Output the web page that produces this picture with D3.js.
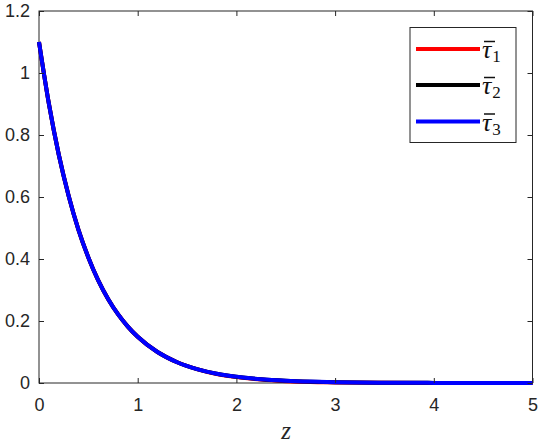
<!DOCTYPE html>
<html>
<head>
<meta charset="utf-8">
<script src="https://cdn.jsdelivr.net/npm/d3@7"></script>
<style>
  body { margin: 0; background: #fff; }
  svg { display: block; }
</style>
</head>
<body>
<svg id="chart" width="540" height="444"></svg>
<script>
// values
const zValues = [0, 0.1, 0.2, 0.3, 0.4, 0.5, 0.6, 0.7, 0.8, 0.9, 1.0, 1.2, 1.4, 1.6, 1.8, 2.0, 2.25, 2.5, 2.75, 3.0, 3.5, 4.0, 4.5, 5.0];
const tau1 = [1.100, 0.901, 0.737, 0.604, 0.494, 0.405, 0.331, 0.271, 0.222, 0.182, 0.149, 0.100, 0.067, 0.045, 0.029, 0.019, 0.011, 0.006, 0.003, 0.002, 0.0008, 0.0003, 0.0001, 0.00005];
const tau2 = [1.100, 0.901, 0.737, 0.604, 0.494, 0.405, 0.331, 0.271, 0.222, 0.182, 0.149, 0.100, 0.067, 0.045, 0.030, 0.020, 0.012, 0.0072, 0.0044, 0.0026, 0.0010, 0.0004, 0.0001, 0.00005];
const tau3 = [1.100, 0.901, 0.737, 0.604, 0.494, 0.405, 0.331, 0.271, 0.222, 0.182, 0.149, 0.100, 0.067, 0.045, 0.030, 0.020, 0.012, 0.0074, 0.0045, 0.0027, 0.0010, 0.0004, 0.0001, 0.00005];
const seriesNames = ["1", "2", "3"];
const seriesColors = ["#ff0000", "#000000", "#0000ff"];
const xTicks = [0, 1, 2, 3, 4, 5];
const yTicks = [0, 0.2, 0.4, 0.6, 0.8, 1, 1.2];

const plotLeft = 39, plotRight = 532.5, plotTop = 11, plotBottom = 383;
const axisColor = "#262626";

const svg = d3.select("#chart");

const x = d3.scaleLinear().domain([0, 5]).range([plotLeft, plotRight]);
const y = d3.scaleLinear().domain([0, 1.2]).range([plotBottom, plotTop]);

// box
svg.append("rect")
    .attr("x", plotLeft).attr("y", plotTop)
    .attr("width", plotRight - plotLeft).attr("height", plotBottom - plotTop)
    .attr("fill", "none").attr("stroke", axisColor).attr("stroke-width", 1);

// curves
const line = d3.line()
    .x((d, i) => x(zValues[i]))
    .y(d => y(d))
    .curve(d3.curveMonotoneX);

[tau1, tau2, tau3].forEach(function (s, k) {
    svg.append("path")
        .datum(s)
        .attr("d", line)
        .attr("fill", "none")
        .attr("stroke", seriesColors[k])
        .attr("stroke-width", 4)
        .attr("stroke-linejoin", "round");
});

// axes with inward ticks
const xAxis = d3.axisBottom(x).tickValues(xTicks).tickSize(-5).tickPadding(15).tickFormat(d3.format("d"));
const yAxis = d3.axisLeft(y).tickValues(yTicks).tickSize(-5).tickPadding(9).tickFormat(d => String(d));

svg.append("g").attr("transform", `translate(0,${plotBottom})`).call(xAxis);
svg.append("g").attr("transform", `translate(${plotLeft},0)`).call(yAxis);
// mirrored ticks on top and right
svg.append("g").attr("transform", `translate(0,${plotTop})`)
    .call(d3.axisTop(x).tickValues(xTicks).tickSize(-5).tickFormat(""));
svg.append("g").attr("transform", `translate(${plotRight},0)`)
    .call(d3.axisRight(y).tickValues(yTicks).tickSize(-5).tickFormat(""));

svg.selectAll(".domain").remove();
svg.selectAll(".tick line").attr("stroke", axisColor);
svg.selectAll(".tick text")
    .attr("fill", axisColor)
    .style("font-family", "'Liberation Sans', Arial, sans-serif")
    .style("font-size", "18px");

// x label
svg.append("text")
    .attr("x", 286).attr("y", 439)
    .attr("text-anchor", "middle")
    .style("font-family", "'Liberation Serif', 'DejaVu Serif', serif")
    .style("font-style", "italic")
    .style("font-size", "25px")
    .attr("fill", axisColor)
    .text("z");

// legend
const lg = svg.append("g");
lg.append("rect")
    .attr("x", 410).attr("y", 27.5).attr("width", 106).attr("height", 115)
    .attr("fill", "#fff").attr("stroke", axisColor).attr("stroke-width", 1);
const legY = [49, 85, 121.5];
seriesNames.forEach(function (n, k) {
    lg.append("line")
        .attr("x1", 416).attr("x2", 480)
        .attr("y1", legY[k]).attr("y2", legY[k])
        .attr("stroke", seriesColors[k]).attr("stroke-width", 4);
    const t = lg.append("text")
        .attr("x", 482).attr("y", legY[k] + 9)
        .style("font-family", "'Liberation Serif', 'DejaVu Serif', serif")
        .style("font-size", "26px")
        .attr("fill", "#111");
    t.append("tspan").style("font-style", "italic").text("τ");
    t.append("tspan").attr("dy", 4).attr("dx", 1).style("font-size", "17px").text(n);
    // bar over tau
    lg.append("line")
        .attr("x1", 484).attr("x2", 495)
        .attr("y1", legY[k] - 7.5).attr("y2", legY[k] - 7.5)
        .attr("stroke", "#111").attr("stroke-width", 1.5);
});
</script>
</body>
</html>
